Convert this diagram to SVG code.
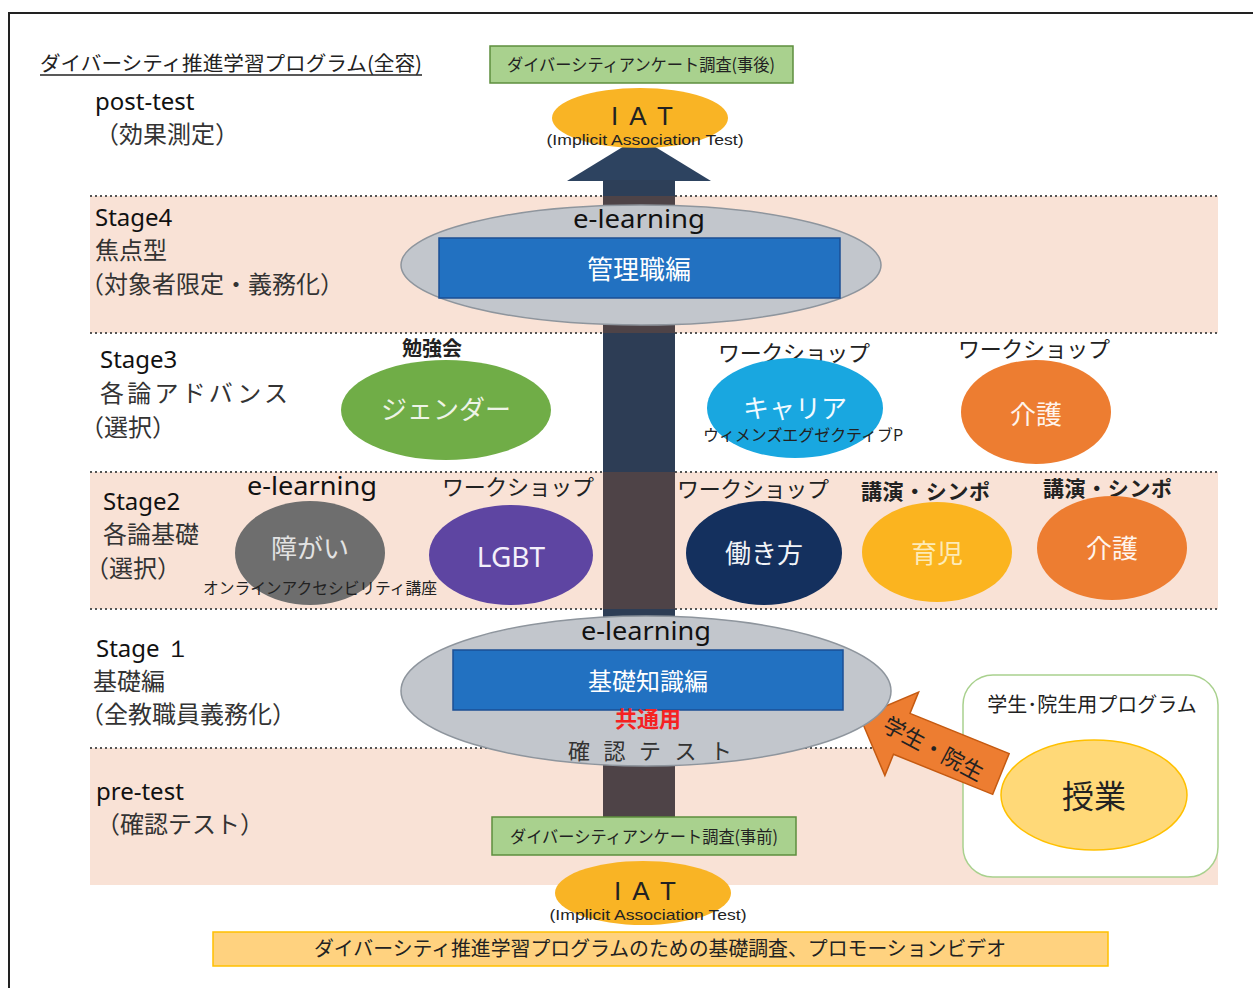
<svg xmlns="http://www.w3.org/2000/svg" width="1253" height="988" viewBox="0 0 1253 988">
<style>
.jp{font-family:"Noto Sans CJK JP","Noto Sans",sans-serif;fill:#222}
.lat{font-family:"Noto Sans","Liberation Sans",sans-serif;fill:#111}
.ar{font-family:"Liberation Sans",Arial,sans-serif;fill:#222}
.band{fill:#F9E2D6}
.dot{stroke:#555;stroke-width:2;stroke-dasharray:2 3;fill:none}
.c{text-anchor:middle}
.gbox{fill:#A9D18E;stroke:#5E8E3E;stroke-width:1.5}
.iat{fill:#F9B425}
.big{fill:#C2C6CC;stroke:#8E959D;stroke-width:1.5}
.blue{fill:#2271C1;stroke:#1B4F94;stroke-width:1.5}
</style>
<rect x="0" y="0" width="1253" height="988" fill="#fff"/>
<path d="M9,1000 V13 H1260" fill="none" stroke="#222" stroke-width="2"/>

<g id="bands">
<rect class="band" x="90" y="196" width="1128" height="137"/>
<rect class="band" x="90" y="472" width="1128" height="137"/>
<rect class="band" x="90" y="748" width="1128" height="137"/>
<line class="dot" x1="90" y1="196" x2="1218" y2="196"/>
<line class="dot" x1="90" y1="333" x2="1218" y2="333"/>
<line class="dot" x1="90" y1="472" x2="1218" y2="472"/>
<line class="dot" x1="90" y1="609" x2="1218" y2="609"/>
<line class="dot" x1="90" y1="748" x2="1218" y2="748"/>
</g>

<g id="student-program">
<rect x="963" y="675" width="255" height="202" rx="30" fill="#fff" stroke="#A9D18E" stroke-width="1.5"/>
<text class="jp c" x="1092" y="712" font-size="20">学生･院生用プログラム</text>
<ellipse cx="1094" cy="795" rx="93" ry="55" fill="#FFD978" stroke="#FFC000" stroke-width="1.5"/>
<text class="jp c" x="1094" y="808" font-size="32">授業</text>
</g>

<g id="connectors">
<polygon points="567,181 639,137 711,181" fill="#2D4360"/>
<rect x="603" y="180" width="72" height="16" fill="#2D3F58"/>
<rect x="603" y="196" width="72" height="137" fill="#4E4347"/>
<rect x="603" y="333" width="72" height="139" fill="#2D3D55"/>
<rect x="603" y="472" width="72" height="137" fill="#4E4347"/>
<rect x="603" y="609" width="72" height="139" fill="#2D3D55"/>
<rect x="603" y="748" width="72" height="72" fill="#4E4347"/>
<g id="student-arrow" transform="translate(860,717) rotate(22)">
<polygon points="0,0 45,-45 45,-22 152,-22 152,22 45,22 45,45" fill="#ED7D31" stroke="#C55A11" stroke-width="1.5"/>
<text class="jp" x="80" y="10" font-size="22" text-anchor="middle" transform="rotate(6 80 3)">学生・院生</text>
</g>
</g>

<g id="title">
<text class="jp" x="40" y="71" font-size="20" textLength="382" lengthAdjust="spacingAndGlyphs">ダイバーシティ推進学習プログラム(全容)</text>
<line x1="40" y1="75" x2="422" y2="75" stroke="#222" stroke-width="1.5"/>
</g>

<g id="post-test-label">
<text class="lat" x="95" y="110" font-size="24">post-test</text>
<text class="jp" x="95" y="143" font-size="24" style="fill:#333">（効果測定）</text>
</g>

<g id="survey-post">
<rect class="gbox" x="490" y="46" width="303" height="37"/>
<text class="jp c" x="641" y="71" font-size="17" textLength="268" lengthAdjust="spacingAndGlyphs">ダイバーシティアンケート調査(事後)</text>
</g>

<g id="iat-post">
<ellipse class="iat" cx="640" cy="118" rx="88" ry="30"/>
<text class="ar c" x="642" y="125" font-size="26" textLength="62">I A T</text>
<text class="ar c" x="645" y="145" font-size="15" textLength="197" lengthAdjust="spacingAndGlyphs">(Implicit Association Test)</text>
</g>

<g id="stage4-label">
<text class="lat" x="95" y="226" font-size="24">Stage4</text>
<text class="jp" x="95" y="259" font-size="24" style="fill:#333">焦点型</text>
<text class="jp" x="80" y="293" font-size="24" style="fill:#333">（対象者限定・義務化）</text>
</g>

<g id="stage4-node">
<ellipse class="big" cx="641" cy="265" rx="240" ry="60"/>
<text class="lat c" x="639" y="228" font-size="26" textLength="132" lengthAdjust="spacingAndGlyphs">e-learning</text>
<rect class="blue" x="439" y="238" width="401" height="60"/>
<text class="jp c" x="639" y="279" font-size="26" style="fill:#fff">管理職編</text>
</g>

<g id="stage3-label">
<text class="lat" x="100" y="368" font-size="24">Stage3</text>
<text class="jp" x="100" y="402" font-size="24" textLength="188" style="fill:#333">各論アドバンス</text>
<text class="jp" x="80" y="436" font-size="24" style="fill:#333">（選択）</text>
</g>

<g id="gender">
<text class="jp" x="402" y="356" font-size="20" font-weight="bold">勉強会</text>
<ellipse cx="446" cy="410" rx="105" ry="50" fill="#70AD47"/>
<text class="jp c" x="446" y="419" font-size="26" style="fill:#EEF4E6">ジェンダー</text>
</g>

<g id="career">
<text class="jp" x="718" y="361" font-size="22" textLength="152">ワークショップ</text>
<ellipse cx="795" cy="408" rx="88" ry="50" fill="#19A7E0"/>
<text class="jp c" x="795" y="418" font-size="26" style="fill:#F2FAFF">キャリア</text>
<text class="jp c" x="803" y="441" font-size="16" textLength="200" lengthAdjust="spacingAndGlyphs">ウィメンズエグゼクティブP</text>
</g>

<g id="care3">
<text class="jp" x="958" y="357" font-size="22" textLength="152">ワークショップ</text>
<ellipse cx="1036" cy="412" rx="75" ry="52" fill="#ED7D31"/>
<text class="jp c" x="1036" y="424" font-size="26" style="fill:#FFF4EC">介護</text>
</g>

<g id="stage2-label">
<text class="lat" x="103" y="510" font-size="24">Stage2</text>
<text class="jp" x="103" y="543" font-size="24" style="fill:#333">各論基礎</text>
<text class="jp" x="85" y="577" font-size="24" style="fill:#333">（選択）</text>
</g>

<g id="disability">
<text class="lat" x="247" y="495" font-size="26" textLength="130" lengthAdjust="spacingAndGlyphs">e-learning</text>
<ellipse cx="310" cy="553" rx="75" ry="52" fill="#6E6E6E"/>
<text class="jp c" x="310" y="558" font-size="26" style="fill:#E2E2E2">障がい</text>
<text class="jp" x="203" y="594" font-size="16" textLength="234" lengthAdjust="spacingAndGlyphs">オンラインアクセシビリティ講座</text>
</g>

<g id="lgbt">
<text class="jp" x="442" y="495" font-size="22" textLength="152">ワークショップ</text>
<ellipse cx="511" cy="555" rx="82" ry="50" fill="#5E45A2"/>
<text class="lat c" x="511" y="567" font-size="28" style="fill:#F4F0FA">LGBT</text>
</g>

<g id="workstyle">
<text class="jp" x="677" y="497" font-size="22" textLength="152">ワークショップ</text>
<ellipse cx="764" cy="553" rx="78" ry="52" fill="#14305E"/>
<text class="jp c" x="764" y="563" font-size="26" style="fill:#F2F4F8">働き方</text>
</g>

<g id="childcare">
<text class="jp" x="861" y="499" font-size="21" font-weight="bold" textLength="129">講演・シンポ</text>
<ellipse cx="937" cy="552" rx="75" ry="50" fill="#FBB41F"/>
<text class="jp c" x="937" y="563" font-size="26" style="fill:#FDEBB8">育児</text>
</g>

<g id="care2">
<text class="jp" x="1043" y="496" font-size="21" font-weight="bold" textLength="129">講演・シンポ</text>
<ellipse cx="1112" cy="548" rx="75" ry="52" fill="#ED7D31"/>
<text class="jp c" x="1112" y="558" font-size="26" style="fill:#FFF4EC">介護</text>
</g>

<g id="stage1-label">
<text class="lat" x="96" y="657" font-size="24">Stage １</text>
<text class="jp" x="93" y="690" font-size="24" style="fill:#333">基礎編</text>
<text class="jp" x="80" y="723" font-size="24" style="fill:#333">（全教職員義務化）</text>
</g>

<g id="stage1-node">
<ellipse class="big" cx="646" cy="691" rx="245" ry="75"/>
<text class="lat c" x="646" y="640" font-size="26" textLength="130" lengthAdjust="spacingAndGlyphs">e-learning</text>
<rect class="blue" x="453" y="650" width="390" height="60"/>
<text class="jp c" x="648" y="690" font-size="24" style="fill:#fff">基礎知識編</text>
<text class="jp c" x="648" y="727" font-size="22" font-weight="bold" style="fill:#F52222">共通用</text>
<text class="jp c" x="650" y="759" font-size="22" textLength="164" style="fill:#333">確認テスト</text>
</g>

<g id="pre-test-label">
<text class="lat" x="96" y="800" font-size="24">pre-test</text>
<text class="jp" x="96" y="833" font-size="24" style="fill:#333">（確認テスト）</text>
</g>

<g id="survey-pre">
<rect class="gbox" x="492" y="817" width="304" height="38"/>
<text class="jp c" x="644" y="843" font-size="17" textLength="268" lengthAdjust="spacingAndGlyphs">ダイバーシティアンケート調査(事前)</text>
</g>

<g id="iat-pre">
<ellipse class="iat" cx="643" cy="893" rx="88" ry="32"/>
<text class="ar c" x="645" y="900" font-size="26" textLength="62">I A T</text>
<text class="ar c" x="648" y="920" font-size="15" textLength="197" lengthAdjust="spacingAndGlyphs">(Implicit Association Test)</text>
</g>

<g id="foundation">
<rect x="213" y="932" width="895" height="34" fill="#FFD27F" stroke="#FFC000" stroke-width="1.5"/>
<text class="jp c" x="660" y="956" font-size="20" textLength="692" lengthAdjust="spacingAndGlyphs">ダイバーシティ推進学習プログラムのための基礎調査、プロモーションビデオ</text>
</g>
</svg>
